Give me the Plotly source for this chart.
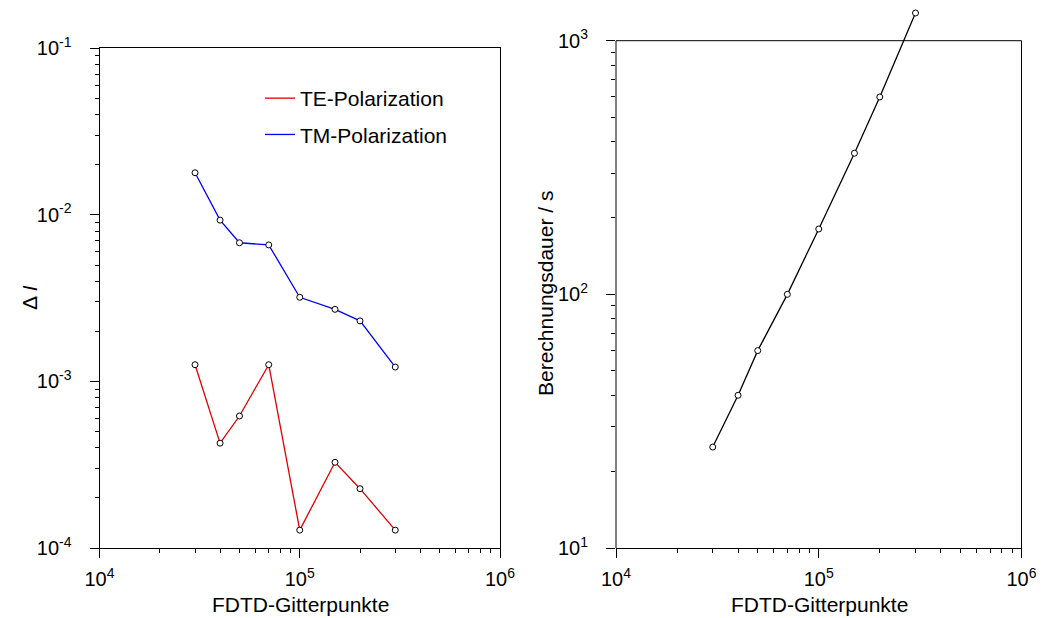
import math
import plotly.graph_objects as go

# ---- data ----
grid_points = [3e4, 4e4, 5e4, 7e4, 1e5, 1.5e5, 2e5, 3e5]
te_error = [1.26e-3, 4.26e-4, 6.2e-4, 1.26e-3, 1.28e-4, 3.27e-4, 2.27e-4, 1.28e-4]
tm_error = [1.79e-2, 9.3e-3, 6.8e-3, 6.6e-3, 3.2e-3, 2.71e-3, 2.31e-3, 1.22e-3]
calc_time = [25, 40, 60, 100, 181, 360, 600, 1286]

x_exps = [4, 5, 6]
y1_exps = [-4, -3, -2, -1]
y2_exps = [1, 2, 3]

FONT = "Liberation Sans, Arial, Helvetica, sans-serif"
W, H = 1042, 618


def px_x(p):
    return p / W


def px_y(p):
    return 1 - p / H


def ticktext(exps):
    return ["10<sup>%s</sup>" % str(e) for e in exps]


def minor_vals(exps):
    vals = []
    for e in exps[:-1]:
        for m in range(2, 10):
            vals.append(m * 10.0 ** e)
    return vals


marker = dict(symbol="circle", size=6, color="white", line=dict(color="black", width=1))

fig = go.Figure()

fig.add_trace(go.Scatter(x=grid_points, y=te_error, mode="lines+markers",
                         line=dict(color="#dd0000", width=1.3), marker=marker,
                         showlegend=False, xaxis="x", yaxis="y"))
fig.add_trace(go.Scatter(x=grid_points, y=tm_error, mode="lines+markers",
                         line=dict(color="#0000ff", width=1.3), marker=marker,
                         showlegend=False, xaxis="x", yaxis="y"))
# legend entries (lines only)
fig.add_trace(go.Scatter(x=[None], y=[None], mode="lines", name="TE-Polarization",
                         line=dict(color="#dd0000", width=1.3), legendgroup="te",
                         xaxis="x", yaxis="y"))
fig.add_trace(go.Scatter(x=[None], y=[None], mode="lines", name="TM-Polarization",
                         line=dict(color="#0000ff", width=1.3), legendgroup="tm",
                         xaxis="x", yaxis="y"))

# right panel: the frame spans 10^1..10^3 but the axis extends (invisibly)
# above it so that the last point, above 10^3, is drawn as in the reference.
y2_bottom, y2_frame_top, y2_axis_top = 548, 40.7, 0
frame_range = [1, 3]
px_per_dec = (y2_bottom - y2_frame_top) / (frame_range[1] - frame_range[0])
y2_range = [frame_range[0], frame_range[0] + (y2_bottom - y2_axis_top) / px_per_dec]
frame_top_frac = (frame_range[1] - y2_range[0]) / (y2_range[1] - y2_range[0])

fig.add_trace(go.Scatter(x=grid_points, y=calc_time, mode="lines+markers",
                         line=dict(color="black", width=1.3), marker=marker,
                         showlegend=False, cliponaxis=False, xaxis="x2", yaxis="y2"))

common = dict(
    type="log", showgrid=False, zeroline=False, showline=True, mirror=True,
    linecolor="black", linewidth=1, ticks="outside", ticklen=9, tickwidth=1,
    tickcolor="black", tickmode="array", automargin=False,
    tickfont=dict(family=FONT, size=20, color="black"),
)
minor_common = dict(ticks="outside", ticklen=4, tickwidth=1, tickcolor="black",
                    tickmode="array")

frame_line = dict(color="black", width=1)
shapes = [
    # left, top and right frame edges of the right panel (10^1 .. 10^3)
    dict(type="line", xref="x2 domain", yref="y2 domain", x0=0, x1=0, y0=0,
         y1=frame_top_frac, line=frame_line),
    dict(type="line", xref="x2 domain", yref="y2 domain", x0=0, x1=1,
         y0=frame_top_frac, y1=frame_top_frac, line=frame_line),
    dict(type="line", xref="x2 domain", yref="y2 domain", x0=1, x1=1, y0=0,
         y1=frame_top_frac, line=frame_line),
]

fig.update_layout(
    width=W, height=H,
    margin=dict(l=0, r=0, t=0, b=0, pad=0, autoexpand=False),
    paper_bgcolor="white", plot_bgcolor="rgba(0,0,0,0)",
    font=dict(family=FONT, size=20, color="black"),
    xaxis=dict(common, domain=[px_x(99.5), px_x(500)], range=[4, 6], anchor="y",
               tickvals=[10.0 ** e for e in x_exps], ticktext=ticktext(x_exps),
               minor=dict(minor_common, tickvals=minor_vals(x_exps)),
               ticklabelstandoff=4),
    yaxis=dict(common, domain=[px_y(548), px_y(48.3)], range=[-4, -1], anchor="x",
               tickvals=[10.0 ** e for e in y1_exps], ticktext=ticktext(y1_exps),
               minor=dict(minor_common, tickvals=minor_vals(y1_exps)),
               ticklabelstandoff=14),
    xaxis2=dict(common, domain=[px_x(616), px_x(1021.5)], range=[4, 6], anchor="y2",
                mirror=False,
                tickvals=[10.0 ** e for e in x_exps], ticktext=ticktext(x_exps),
                minor=dict(minor_common, tickvals=minor_vals(x_exps)),
                ticklabelstandoff=4),
    yaxis2=dict(common, domain=[px_y(y2_bottom), px_y(y2_axis_top)], range=y2_range,
                anchor="x2", showline=False, mirror=False,
                tickvals=[10.0 ** e for e in y2_exps], ticktext=ticktext(y2_exps),
                minor=dict(minor_common, tickvals=minor_vals(y2_exps)),
                ticklabelstandoff=14),
    shapes=shapes,
    legend=dict(x=px_x(260), y=px_y(78), xanchor="left", yanchor="top",
                bgcolor="rgba(0,0,0,0)", borderwidth=0, tracegroupgap=6,
                font=dict(family=FONT, size=21, color="black")),
    annotations=[
        dict(text="FDTD-Gitterpunkte", x=px_x(300), y=px_y(604), xref="paper", yref="paper",
             xanchor="center", yanchor="middle", showarrow=False,
             font=dict(family=FONT, size=21, color="black")),
        dict(text="FDTD-Gitterpunkte", x=px_x(819), y=px_y(604), xref="paper", yref="paper",
             xanchor="center", yanchor="middle", showarrow=False,
             font=dict(family=FONT, size=21, color="black")),
        dict(text="\u0394 <i>I</i>", x=px_x(30), y=px_y(298), xref="paper", yref="paper",
             xanchor="center", yanchor="middle", showarrow=False, textangle=-90,
             font=dict(family=FONT, size=21, color="black")),
        dict(text="Berechnungsdauer / s", x=px_x(545), y=px_y(294), xref="paper", yref="paper",
             xanchor="center", yanchor="middle", showarrow=False, textangle=-90,
             font=dict(family=FONT, size=21, color="black")),
    ],
)

fig.write_html("out.html")
